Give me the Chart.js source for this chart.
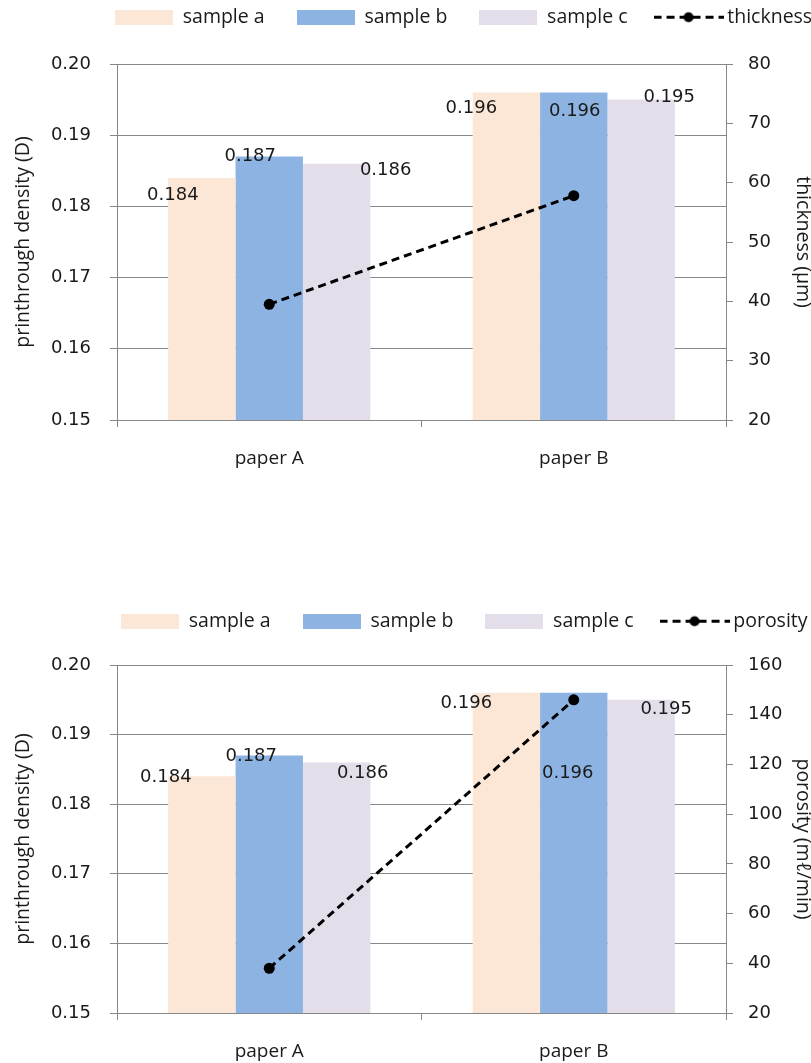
<!DOCTYPE html>
<html>
<head>
<meta charset="utf-8">
<script src="https://cdn.jsdelivr.net/npm/chart.js@4/dist/chart.umd.min.js"></script>
<style>
  html, body { margin: 0; padding: 0; background: #fff; }
  #wrap { position: relative; width: 811px; height: 1063px; overflow: hidden; }
  canvas { position: absolute; left: 0; }
  #thicknessChart { top: 0; }
  #porosityChart { top: 603px; }
</style>
</head>
<body>
<div id="wrap">
  <canvas id="thicknessChart" width="811" height="490"></canvas>
  <canvas id="porosityChart" width="811" height="460"></canvas>
</div>
<script>
// ---- data ----
const papers = ['paper A', 'paper B'];
const sampleNames = ['sample a', 'sample b', 'sample c'];
const densitySampleA = [0.184, 0.196];
const densitySampleB = [0.187, 0.196];
const densitySampleC = [0.186, 0.195];
const thickness = [39.5, 57.8];
const porosity = [38, 146];
const densityTicks = [0.15, 0.16, 0.17, 0.18, 0.19, 0.20];
const thicknessTicks = [20, 30, 40, 50, 60, 70, 80];
const porosityTicks = [20, 40, 60, 80, 100, 120, 140, 160];

// ---- styling ----
const GRID = '#878787';
const TEXT = '#1a1a1a';
const COLORS = ['#FCE6D6', '#8DB3E2', '#E3DEEA'];
const LABEL_FONT = 'Open Sans';
const NUM_FONT = 'DejaVu Sans';

// value label placement (px from the top-centre of each bar), per sample per paper
const thicknessLabelShift = [
  [[-29, 17], [-35, 16]],
  [[-19, 0], [1, 19]],
  [[49, 7], [28, -2]]
];
const porosityLabelShift = [
  [[-36, 1], [-40, 10]],
  [[-18, 1], [-6, 80]],
  [[26, 11], [25, 10]]
];

function swatch(color) {
  const c = document.createElement('canvas');
  c.width = 58; c.height = 15;
  const g = c.getContext('2d');
  g.fillStyle = color;
  g.fillRect(0, 0, 58, 15);
  return c;
}

function dashedDotIcon() {
  const c = document.createElement('canvas');
  c.width = 70; c.height = 15;
  const g = c.getContext('2d');
  g.strokeStyle = '#000';
  g.lineWidth = 3;
  g.setLineDash([8, 5]);
  g.beginPath(); g.moveTo(0, 7.5); g.lineTo(70, 7.5); g.stroke();
  g.setLineDash([]);
  g.fillStyle = '#000';
  g.beginPath(); g.arc(35, 7.5, 5, 0, Math.PI * 2); g.fill();
  return c;
}

// fixes the legend band height and nudges where its row is drawn
function legendBand(height, dx, dy) {
  return {
    id: 'legendBand',
    beforeInit(chart) {
      const lg = chart.legend;
      const fit = lg.fit;
      lg.fit = function () { fit.call(this); this.height = height; };
      const draw = lg.draw;
      lg.draw = function () {
        const ctx = this.ctx;
        ctx.save();
        ctx.translate(dx, dy);
        draw.call(this);
        ctx.restore();
      };
    }
  };
}

// writes each bar's value next to it
function valueLabels(shifts) {
  return {
    id: 'valueLabels',
    afterDatasetsDraw(chart) {
      const ctx = chart.ctx;
      ctx.save();
      ctx.font = '18px "' + NUM_FONT + '"';
      ctx.fillStyle = TEXT;
      ctx.textAlign = 'center';
      ctx.textBaseline = 'middle';
      chart.data.datasets.forEach((ds, di) => {
        if (ds.type === 'line') return;
        const meta = chart.getDatasetMeta(di);
        meta.data.forEach((bar, i) => {
          const [dx, dy] = shifts[di][i];
          ctx.fillText(ds.data[i].toFixed(3), bar.x + dx, bar.y + dy);
        });
      });
      ctx.restore();
    }
  };
}

function buildChart(canvasId, p) {
  const icons = [swatch(COLORS[0]), swatch(COLORS[1]), swatch(COLORS[2]), dashedDotIcon()];
  const datasets = [
    { label: sampleNames[0], data: densitySampleA, backgroundColor: COLORS[0], yAxisID: 'y', order: 1 },
    { label: sampleNames[1], data: densitySampleB, backgroundColor: COLORS[1], yAxisID: 'y', order: 1 },
    { label: sampleNames[2], data: densitySampleC, backgroundColor: COLORS[2], yAxisID: 'y', order: 1 },
    {
      type: 'line', label: p.lineLabel, data: p.lineData, yAxisID: 'y1', order: 0,
      borderColor: '#000', borderWidth: 3, borderDash: [8, 5],
      pointRadius: 5.5, pointBackgroundColor: '#000', pointBorderColor: '#000', pointBorderWidth: 0,
      fill: false, tension: 0
    }
  ];

  return new Chart(document.getElementById(canvasId), {
    type: 'bar',
    data: { labels: papers, datasets },
    options: {
      responsive: false,
      animation: false,
      devicePixelRatio: 1,
      layout: { padding: 0 },
      categoryPercentage: 0.664,
      barPercentage: 1.0,
      plugins: {
        tooltip: { enabled: false },
        legend: {
          position: 'top',
          align: 'start',
          labels: {
            usePointStyle: true,
            pointStyleWidth: 58,
            boxHeight: 15,
            padding: 32,
            color: TEXT,
            font: { family: LABEL_FONT, size: 19.5 },
            generateLabels(chart) {
              return chart.data.datasets.map((ds, i) => ({
                text: ds.label,
                pointStyle: icons[i],
                datasetIndex: i,
                hidden: false,
                fillStyle: 'rgba(0,0,0,0)',
                strokeStyle: 'rgba(0,0,0,0)',
                lineWidth: 0,
                fontColor: TEXT
              }));
            }
          }
        }
      },
      scales: {
        x: {
          grid: { offset: true, drawOnChartArea: false, tickLength: 7, color: GRID },
          border: { color: GRID },
          ticks: { color: TEXT, font: { family: LABEL_FONT, size: 19 }, padding: 20 },
          afterFit(s) { s.height = p.xAxisHeight; }
        },
        y: {
          position: 'left',
          min: densityTicks[0],
          max: densityTicks[densityTicks.length - 1],
          afterBuildTicks(s) { s.ticks = densityTicks.map(v => ({ value: v })); },
          ticks: {
            color: TEXT, font: { family: NUM_FONT, size: 18 }, padding: 19,
            callback: v => Number(v).toFixed(2)
          },
          grid: { color: GRID, tickLength: 7 },
          border: { color: GRID },
          title: {
            display: true, text: 'printhrough density (D)', color: TEXT,
            font: { family: LABEL_FONT, size: 19.5 }, padding: { top: 12, bottom: 0 }
          },
          afterFit(s) { s.width = 117; }
        },
        y1: {
          position: 'right',
          min: p.rightTicks[0],
          max: p.rightTicks[p.rightTicks.length - 1],
          afterBuildTicks(s) { s.ticks = p.rightTicks.map(v => ({ value: v })); },
          ticks: { color: TEXT, font: { family: NUM_FONT, size: 18 }, padding: 15 },
          grid: { drawOnChartArea: false, tickLength: 7, color: GRID },
          border: { color: GRID },
          title: {
            display: true, text: p.rightTitle, color: TEXT,
            font: { family: LABEL_FONT, size: 19.5 }, padding: { top: -3, bottom: 0 }
          },
          afterFit(s) { s.width = 85; }
        }
      }
    },
    plugins: [legendBand(p.legendHeight, p.legendDx, p.legendDy), valueLabels(p.labelShift)]
  });
}

buildChart('thicknessChart', {
  lineLabel: 'thickness',
  lineData: thickness,
  rightTicks: thicknessTicks,
  rightTitle: 'thickness (μm)',
  legendHeight: 64,
  xAxisHeight: 70,
  legendDx: 83,
  legendDy: -24.5,
  labelShift: thicknessLabelShift
});

buildChart('porosityChart', {
  lineLabel: 'porosity',
  lineData: porosity,
  rightTicks: porosityTicks,
  rightTitle: 'porosity (mℓ/min)',
  legendHeight: 62,
  xAxisHeight: 50,
  legendDx: 89,
  legendDy: -23.5,
  labelShift: porosityLabelShift
});
</script>
</body>
</html>
